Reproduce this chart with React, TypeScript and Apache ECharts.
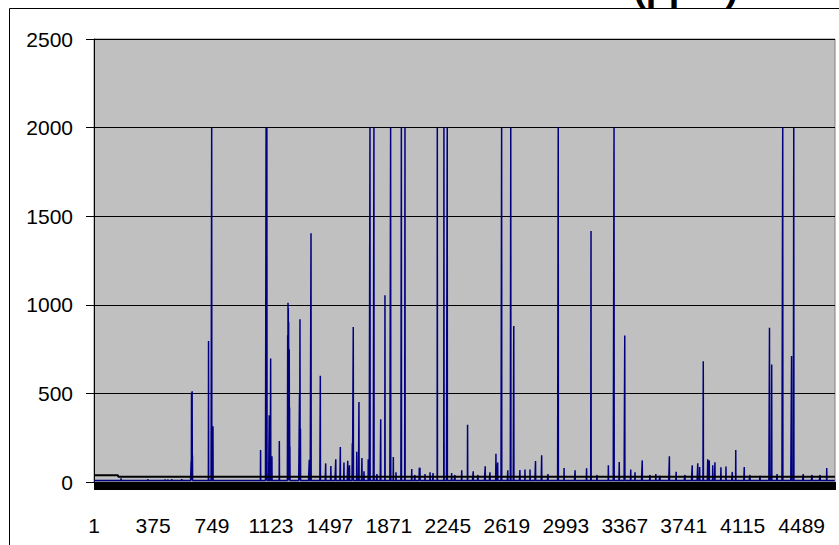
import React, { useEffect, useRef } from "react";
import * as echarts from "echarts";

// Number of samples along the category axis
const categoryCount = 4700;
// Category labels shown every 374 samples
const labelStep = 374;
// Resting level of the concentration trace between events
const baseLevel = 8;
// Read-off events: [sample number, ppm]
const spikes: [number, number][] = [
  [172, 21], [343, 15], [451, 15], [470, 14], [495, 15], [557, 16],
  [617, 120], [619, 505], [621, 490], [623, 512], [625, 150],
  [727, 796], [747, 2000], [755, 315],
  [1057, 181], [1092, 2000], [1095, 1980], [1097, 2000], [1112, 377], [1121, 697], [1129, 145],
  [1176, 232], [1229, 828], [1231, 1011], [1233, 980], [1235, 903], [1237, 565], [1239, 749],
  [1241, 420], [1243, 200], [1304, 500], [1307, 919], [1310, 300], [1366, 126], [1377, 1404],
  [1436, 599], [1470, 105], [1503, 90], [1534, 128], [1563, 198], [1586, 110], [1610, 120],
  [1621, 95], [1639, 218], [1645, 875], [1667, 170], [1681, 452], [1700, 135], [1713, 60],
  [1740, 128], [1751, 2000], [1776, 2000], [1795, 45], [1819, 354], [1846, 1054], [1882, 2000],
  [1899, 141], [1916, 55], [1950, 2000], [1973, 2000], [2016, 73], [2036, 40], [2064, 80],
  [2068, 81], [2100, 45], [2132, 55], [2151, 50], [2178, 2000], [2220, 2000], [2241, 2000],
  [2269, 50], [2290, 40], [2333, 66], [2370, 323], [2406, 60], [2436, 40], [2482, 89],
  [2512, 55], [2550, 160], [2561, 110], [2586, 2000], [2625, 66], [2644, 2000], [2663, 881],
  [2702, 68], [2734, 70], [2766, 70], [2801, 119], [2840, 151], [2880, 45], [2945, 2000],
  [2982, 79], [3052, 66], [3125, 78], [3153, 1417], [3191, 40], [3263, 94], [3299, 2000],
  [3332, 113], [3367, 827], [3405, 70], [3432, 55], [3478, 122], [3527, 40], [3564, 45],
  [3590, 35], [3650, 145], [3693, 58], [3749, 40], [3795, 94], [3830, 106], [3842, 85],
  [3865, 681], [3893, 128], [3903, 122], [3925, 94], [3939, 111], [3977, 83], [4009, 88],
  [4049, 57], [4071, 181], [4125, 85], [4161, 40], [4225, 35], [4285, 870], [4299, 663],
  [4333, 45], [4369, 2000], [4425, 711], [4439, 2000], [4499, 45], [4555, 40], [4606, 40],
  [4648, 79],
];
// Black reference line: level before and after the break sample
const thresholdBreak = 155;
const thresholdLevels = [38, 30];
// Value axis
const yMax = 2500;
const yInterval = 500;

export default function App() {
  const ref = useRef<HTMLDivElement>(null);
  useEffect(() => {
    if (!ref.current) return;
    const chart = echarts.init(ref.current, null, { renderer: "svg" });
    const categories = Array.from({ length: categoryCount }, (_, i) => String(i + 1));
    const values = Array.from({ length: categoryCount }, () => baseLevel);
    spikes.forEach(([c, v]) => {
      values[c - 1] = v;
    });
    const threshold = categories.map((_, i) =>
      i + 1 < thresholdBreak ? thresholdLevels[0] : thresholdLevels[1]
    );
    const font = "'Liberation Sans', Arial, sans-serif";
    chart.setOption({
      animation: false,
      backgroundColor: "#ffffff",
      grid: {
        left: 94,
        right: 4,
        top: 39,
        bottom: 63,
        show: true,
        backgroundColor: "#C0C0C0",
        borderColor: "#808080",
        borderWidth: 1,
      },
      graphic: [
        {
          type: "rect",
          shape: { x: 9.5, y: 8.5, width: 900, height: 600 },
          style: { fill: "none", stroke: "#000", lineWidth: 1 },
          silent: true,
          z: -1,
        },
        {
          type: "text",
          x: 633,
          y: 6,
          style: {
            text: "(ppm)",
            fontFamily: font,
            fontWeight: "bold",
            fontSize: 38,
            fill: "#000",
            verticalAlign: "bottom",
            align: "left",
          },
        },
      ],
      xAxis: {
        type: "category",
        data: categories,
        boundaryGap: true,
        axisLine: { show: true, lineStyle: { color: "#000", width: 1 } },
        axisTick: { show: true, interval: 0, length: 8, lineStyle: { color: "#000", width: 1 } },
        axisLabel: {
          interval: labelStep - 1,
          margin: 33,
          fontSize: 21,
          fontFamily: font,
          color: "#000",
        },
        splitLine: { show: false },
      },
      yAxis: {
        type: "value",
        min: 0,
        max: yMax,
        interval: yInterval,
        axisLine: { show: true, lineStyle: { color: "#000", width: 1 } },
        axisTick: { show: true, length: 8, lineStyle: { color: "#000" } },
        axisLabel: {
          margin: 21,
          fontSize: 21,
          fontFamily: font,
          color: "#000",
          formatter: (v: number) => String(v),
        },
        splitLine: { show: true, lineStyle: { color: "#000", width: 1 } },
      },
      series: [
        {
          type: "line",
          data: values,
          showSymbol: false,
          lineStyle: { color: "#000080", width: 1.5 },
          itemStyle: { color: "#000080" },
          z: 2,
        },
        {
          type: "line",
          data: threshold,
          showSymbol: false,
          lineStyle: { color: "#000", width: 2 },
          itemStyle: { color: "#000" },
          z: 3,
        },
      ],
    });
    return () => chart.dispose();
  }, []);
  return (
    <div
      ref={ref}
      style={{ position: "absolute", left: 0, top: 0, width: 839, height: 545 }}
    />
  );
}
